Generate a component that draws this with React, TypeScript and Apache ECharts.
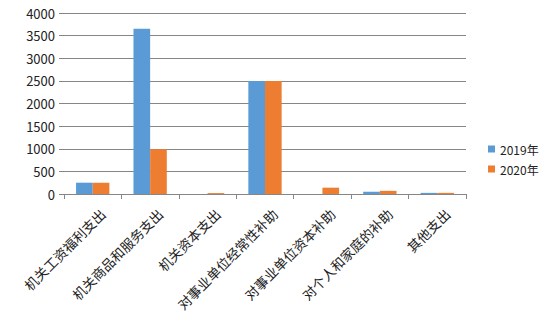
import React, { useEffect, useRef } from "react";
import * as echarts from "echarts";

const categories = [
  "机关工资福利支出",
  "机关商品和服务支出",
  "机关资本支出",
  "对事业单位经常性补助",
  "对事业单位资本补助",
  "对个人和家庭的补助",
  "其他支出",
];
const values2019 = [250, 3650, 0, 2500, 0, 50, 25];
const values2020 = [250, 990, 20, 2500, 140, 70, 25];
const seriesNames = ["2019年", "2020年"];

export default function App() {
  const ref = useRef<HTMLDivElement>(null);
  useEffect(() => {
    if (!ref.current) return;
    const chart = echarts.init(ref.current, null, { renderer: "svg" });
    const font = "'Noto Sans CJK SC', 'Noto Sans', sans-serif";
    chart.setOption({
      animation: false,
      textStyle: { fontFamily: font },
      grid: { left: 64, top: 13, width: 402, height: 181, containLabel: false },
      legend: {
        orient: "vertical",
        left: 483,
        top: 138,
        itemWidth: 7,
        itemHeight: 7,
        itemGap: 8,
        icon: "rect",
        textStyle: { fontSize: 12, color: "#222", fontFamily: font },
        data: seriesNames,
      },
      xAxis: {
        type: "category",
        data: categories,
        axisLine: { lineStyle: { color: "#868686", width: 1 } },
        axisTick: { show: true, length: 5, lineStyle: { color: "#868686" } },
        axisLabel: {
          rotate: 45,
          interval: 0,
          fontSize: 13.5,
          color: "#222",
          margin: 27,
          padding: [27, -14, 0, 0],
          fontFamily: font,
        },
      },
      yAxis: {
        type: "value",
        min: 0,
        max: 4000,
        interval: 500,
        axisLine: { show: false },
        axisTick: { show: true, length: 5, lineStyle: { color: "#868686" } },
        splitLine: { lineStyle: { color: "#868686", width: 1 } },
        axisLabel: {
          fontSize: 13,
          color: "#222",
          margin: 9,
          fontFamily: font,
          formatter: (v: number) => String(v),
        },
      },
      series: [
        {
          name: seriesNames[0],
          type: "bar",
          data: values2019,
          itemStyle: { color: "#5B9BD5" },
          barGap: "0%",
          barCategoryGap: "42%",
        },
        {
          name: seriesNames[1],
          type: "bar",
          data: values2020,
          itemStyle: { color: "#ED7D31" },
          barGap: "0%",
          barCategoryGap: "42%",
        },
      ],
    });
    return () => chart.dispose();
  }, []);
  return <div ref={ref} style={{ width: 548, height: 320, margin: -8 }} />;
}
